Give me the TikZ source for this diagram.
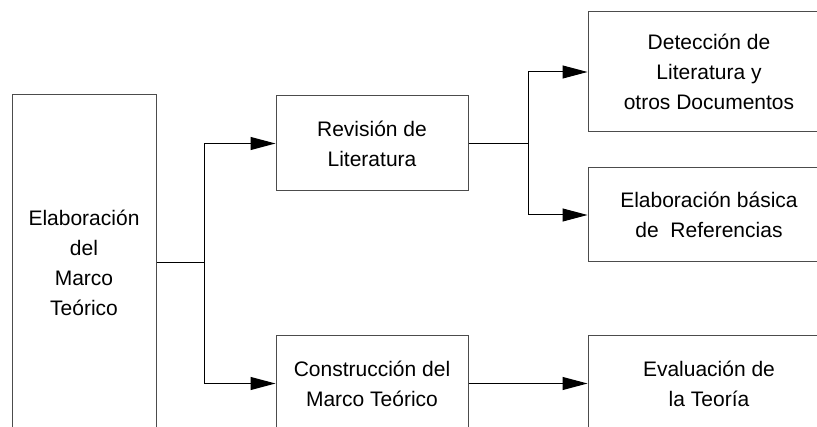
\documentclass[tikz,border=0pt]{standalone}
\usepackage{fontspec}
\setmainfont{Liberation Sans}
\usetikzlibrary{arrows.meta}

\tikzset{
  box/.style={draw=black!70, line width=1pt, align=center, inner sep=0pt,
    font=\fontsize{21}{30}\selectfont},
  link/.style={line width=1pt, -{Triangle[length=25pt,width=13pt]}}
}

\begin{document}
\begin{tikzpicture}[x=1pt, y=-1pt]
    \useasboundingbox (0,0) rectangle (817,427);
    \clip (0,0) rectangle (817,427);
    % Main box on the left
    \node[box, minimum width=144pt, minimum height=336pt] (marco) at (84,263)
        {Elaboración\\del\\Marco\\Teórico};
    % Middle column
    \node[box, minimum width=192pt, minimum height=95pt] (revision) at (372,143.5)
        {Revisión de\\Literatura};
    \node[box, minimum width=192pt, minimum height=95pt] (construccion) at (372,383.5)
        {Construcción del\\Marco Teórico};
    % Right column
    \node[box, minimum width=242pt, minimum height=120pt] (deteccion) at (709,72)
        {Detección de\\Literatura y\\otros Documentos};
    \node[box, minimum width=242pt, minimum height=94pt] (referencias) at (709,215)
        {Elaboración básica\\de\ \ Referencias};
    \node[box, minimum width=242pt, minimum height=95pt] (evaluacion) at (709,383.5)
        {Evaluación de\\la Teoría};
    % Connectors
    \draw[line width=1pt] (marco.east) -- ++(48,0) coordinate (fork1);
    \draw[link] (fork1) |- (revision.west);
    \draw[link] (fork1) |- (construccion.west);
    \draw[line width=1pt] (revision.east) -- ++(60,0) coordinate (fork2);
    \draw[link] (fork2) |- (deteccion.west);
    \draw[link] (fork2) |- (referencias.west);
    \draw[link] (construccion) -- (evaluacion);
\end{tikzpicture}
\end{document}
